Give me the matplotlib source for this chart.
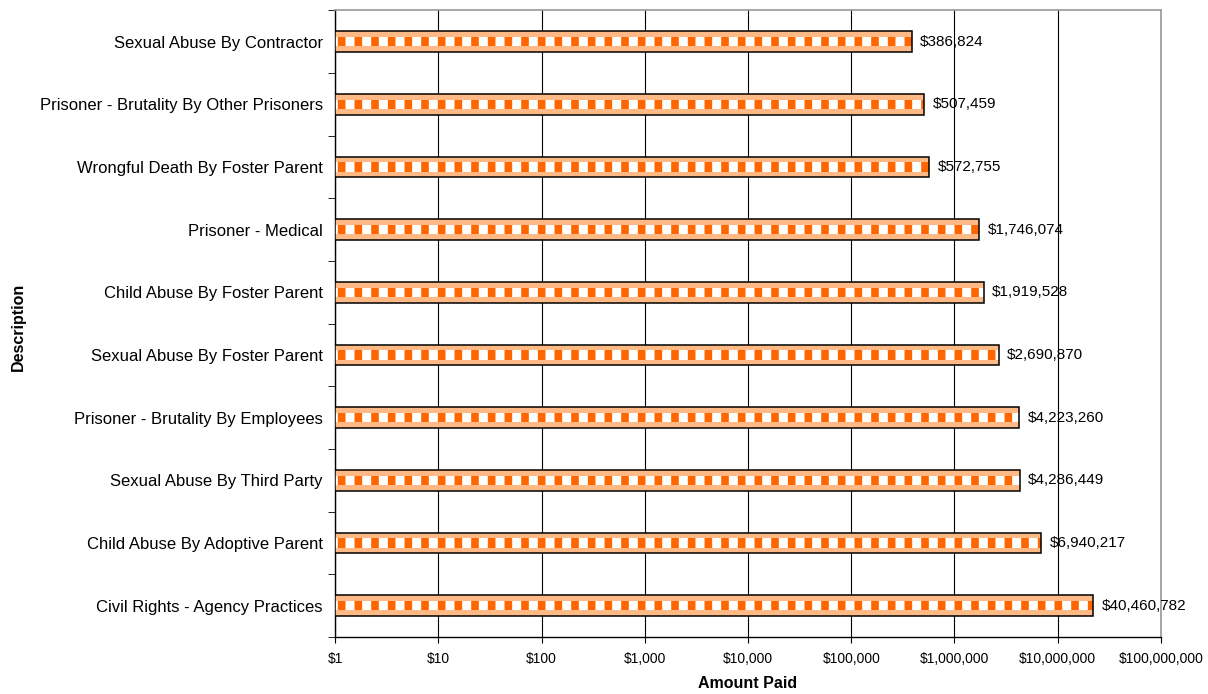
import numpy as np
import matplotlib.pyplot as plt
from matplotlib.ticker import FuncFormatter, FixedLocator

categories = ["Civil Rights - Agency Practices", "Child Abuse By Adoptive Parent",
              "Sexual Abuse By Third Party", "Prisoner - Brutality By Employees",
              "Sexual Abuse By Foster Parent", "Child Abuse By Foster Parent",
              "Prisoner - Medical", "Wrongful Death By Foster Parent",
              "Prisoner - Brutality By Other Prisoners", "Sexual Abuse By Contractor"]
# printed labels
amounts = [40460782, 6940217, 4286449, 4223260, 2690870, 1919528,
           1746074, 572755, 507459, 386824]
# bar lengths as drawn in the picture (the top bar is drawn shorter than its label)
bar_lengths = [22000000, 6940217, 4286449, 4223260, 2690870, 1919528,
               1746074, 572755, 507459, 386824]

plt.rcParams['font.family'] = ['Liberation Sans', 'DejaVu Sans']
plt.rcParams['hatch.linewidth'] = 5.5

fig = plt.figure(figsize=(12.08, 6.94), dpi=100)
ax = fig.add_axes([0.2775, 0.082, 0.6835, 0.903])

y = np.arange(len(categories))
vals = np.array(bar_lengths, dtype=float)
h = 0.33

# light checker background
ax.barh(y, vals - 1, left=1, height=h, color='#FFB985', linewidth=0, zorder=3)
# middle row of orange blocks
ax.barh(y, vals - 1, left=1, height=h * 0.45, color='white', edgecolor='#FF6600',
        hatch='|', linewidth=0, zorder=4)
# outline
ax.barh(y, vals - 1, left=1, height=h, color='none', edgecolor='black', linewidth=1.1, zorder=5)

for yi, v, a in zip(y, bar_lengths, amounts):
    ax.annotate(f"${a:,}", (v, yi), xytext=(6, 0), textcoords='offset points',
                va='center', ha='left', fontsize=11, zorder=6)

ax.set_xscale('log')
ax.set_xlim(1, 1e8)
ax.set_ylim(-0.5, len(categories) - 0.5)
ax.xaxis.set_major_locator(FixedLocator([10 ** k for k in range(9)]))
ax.xaxis.set_minor_locator(FixedLocator([]))
ax.xaxis.set_major_formatter(FuncFormatter(lambda v, p: f"${int(round(v)):,}"))
ax.tick_params(axis='x', labelsize=10, length=4, direction='out', pad=7)
ax.grid(axis='x', color='black', linewidth=0.8, zorder=0)
ax.set_axisbelow(True)

ax.set_yticks(y)
ax.set_yticklabels(categories, fontsize=12)
ax.tick_params(axis='y', which='major', length=0, pad=9)
ax.yaxis.set_minor_locator(FixedLocator(np.arange(-0.5, len(categories), 1.0)))
ax.tick_params(axis='y', which='minor', length=5, direction='out')

for s in ['top', 'right']:
    ax.spines[s].set_color('#999999')
    ax.spines[s].set_linewidth(1.2)
for s in ['left', 'bottom']:
    ax.spines[s].set_color('black')
    ax.spines[s].set_linewidth(1)

ax.set_xlabel('Amount Paid', fontsize=11.5, fontweight='bold')
ax.set_ylabel('Description', fontsize=11.5, fontweight='bold')
ax.xaxis.set_label_coords(0.5, -0.062)
ax.yaxis.set_label_coords(-0.375, 0.495)

fig.savefig('out.png', dpi=100)
